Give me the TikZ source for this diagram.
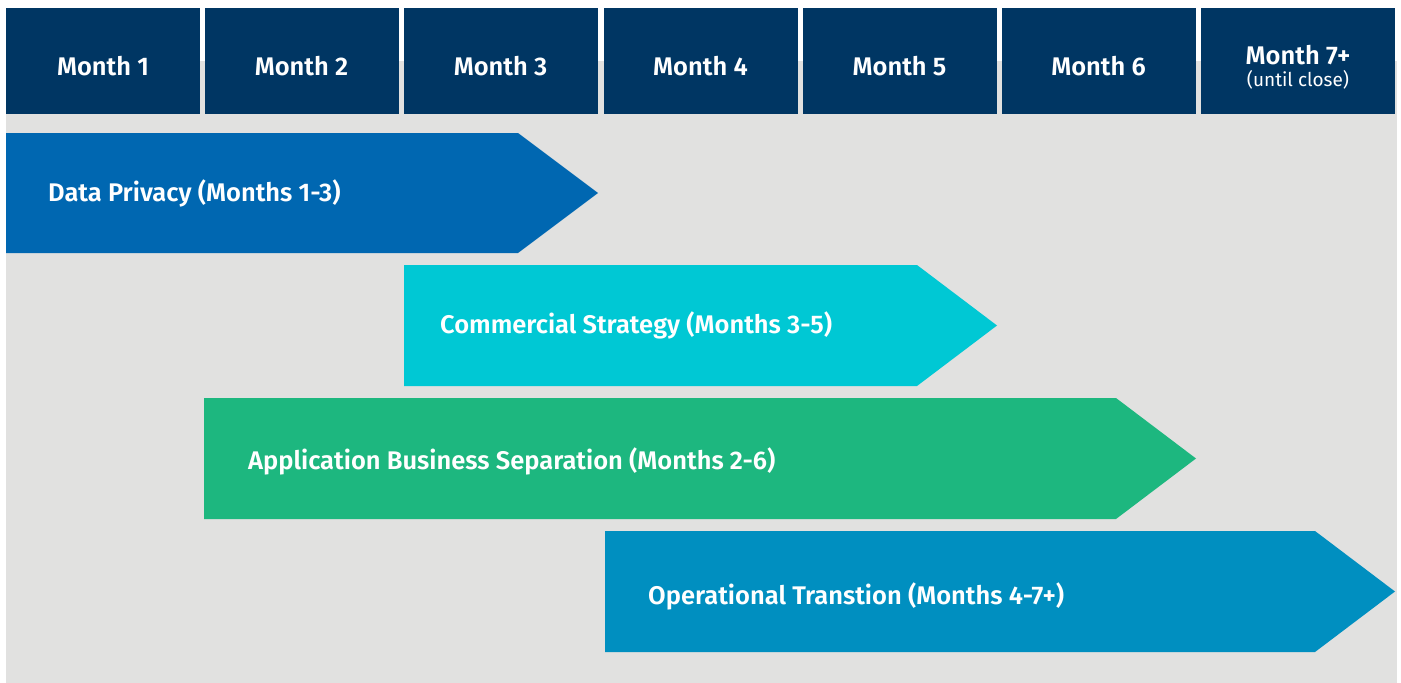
\documentclass[tikz,border=0pt]{standalone}
\usepackage{fontspec}
\setmainfont{Fira Sans}[BoldFont={Fira Sans SemiBold}]
\definecolor{navy}{HTML}{003663}
\definecolor{panel}{HTML}{E1E1E0}
\definecolor{privacy}{HTML}{0067B1}
\definecolor{commercial}{HTML}{00C8D4}
\definecolor{separation}{HTML}{1DB77F}
\definecolor{transition}{HTML}{008FC0}
\begin{document}
\begin{tikzpicture}[x=1pt,y=-1pt,
    month/.style={fill=navy,text=white,minimum width=194pt,minimum height=106pt,
      inner sep=0pt,text height=29pt,text depth=0pt,align=center,
      font=\bfseries\fontsize{25.5}{22}\selectfont},
    phase/.style={anchor=west,text=white,inner sep=0pt,
      font=\bfseries\fontsize{25.5}{28}\selectfont}]
  \useasboundingbox (0,0) rectangle (1401,683);
  \fill[panel] (6,61) rectangle (1397,683);

  % month headers
  \node[month] (m1) at (103,61) {Month 1};
  \node[month] (m2) at (301.5,61) {Month 2};
  \node[month] (m3) at (500.5,61) {Month 3};
  \node[month] (m4) at (700.5,61) {Month 4};
  \node[month] (m5) at (899.5,61) {Month 5};
  \node[month] (m6) at (1098.5,61) {Month 6};
  \node[month,text height=50pt] (m7) at (1298,61)
    {Month 7+\\{\mdseries\fontsize{19}{22}\selectfont(until close)}};

  % phases
  \fill[privacy] (6,133) -- (518,133) -- (598,193) -- (518,253) -- (6,253) -- cycle;
  \node[phase] (privacy) at (48,193) {Data Privacy (Months 1-3)};

  \fill[commercial] (404,265) -- (917,265) -- (997,325.5) -- (917,386) -- (404,386) -- cycle;
  \node[phase] (commercial) at (440,325.5) {Commercial Strategy (Months 3-5)};

  \fill[separation] (204,398) -- (1116,398) -- (1196,458.5) -- (1116,519) -- (204,519) -- cycle;
  \node[phase] (separation) at (248,461) {Application Business Separation (Months 2-6)};

  \fill[transition] (605,531) -- (1315,531) -- (1395,591.5) -- (1315,652) -- (605,652) -- cycle;
  \node[phase] (transition) at (648,596) {Operational Transtion (Months 4-7+)};
\end{tikzpicture}
\end{document}
